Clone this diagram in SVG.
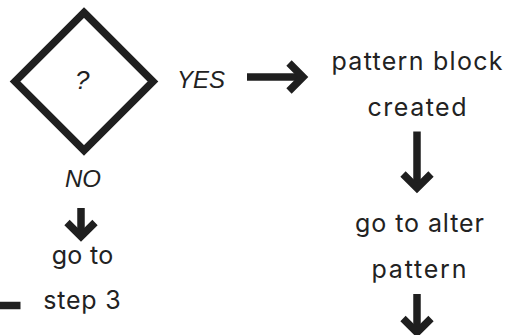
<svg xmlns="http://www.w3.org/2000/svg" width="509" height="335" viewBox="0 0 509 335">
  <style>
    .shape { fill: none; stroke: #1f1f1f; stroke-width: 7.5; stroke-linejoin: miter; }
    .wire { fill: none; stroke: #1f1f1f; stroke-width: 7.5; stroke-linecap: butt; stroke-linejoin: miter; stroke-miterlimit: 10; }
    .label { font-family: "Liberation Sans", Arial, sans-serif; font-style: italic; font-size: 24px; fill: #222; }
    .step { font-family: Inter, "Open Sans", sans-serif; font-size: 25px; fill: #222; text-anchor: middle; }
  </style>

  <!-- decision diamond -->
  <g id="decision">
    <polygon class="shape" points="84,12.5 153,81.5 84,150.5 15,81.5"/>
    <text class="label" x="75" y="89" style="font-size:26px">?</text>
  </g>

  <g id="yes-label">
    <text class="label" x="177" y="87.5">YES</text>
  </g>

  <g id="no-label">
    <text class="label" x="65" y="186.5">NO</text>
  </g>

  <g id="pattern-created">
    <text class="step" x="417" y="70" textLength="171" lengthAdjust="spacing">pattern block</text>
    <text class="step" x="417" y="116" textLength="99" lengthAdjust="spacing">created</text>
  </g>

  <g id="alter-pattern">
    <text class="step" x="419.5" y="232" textLength="129" lengthAdjust="spacing">go to alter</text>
    <text class="step" x="419" y="278" textLength="95" lengthAdjust="spacing">pattern</text>
  </g>

  <g id="goto-step3">
    <text class="step" x="82.5" y="263.5" textLength="61.6" lengthAdjust="spacing">go to</text>
    <text class="step" x="82" y="309" textLength="77.4" lengthAdjust="spacing">step 3</text>
  </g>

  <!-- connectors: shaft plus chevron head -->
  <g id="connectors">
    <!-- YES branch, pointing right -->
    <line class="wire" x1="247" y1="77" x2="303" y2="77"/>
    <polyline class="wire" points="289,63 303,77 289,91"/>

    <!-- pattern block created -> go to alter pattern -->
    <line class="wire" x1="417" y1="131.5" x2="417" y2="188"/>
    <polyline class="wire" points="403,174 417,188 431,174"/>

    <!-- go to alter pattern -> next step -->
    <line class="wire" x1="417" y1="294" x2="417" y2="332.5"/>
    <polyline class="wire" points="403,318.5 417,332.5 431,318.5"/>

    <!-- NO branch, pointing down -->
    <line class="wire" x1="81" y1="208" x2="81" y2="236.5"/>
    <polyline class="wire" points="67,222.5 81,236.5 95,222.5"/>

    <!-- lead-in toward step 3 -->
    <line class="wire" x1="-2" y1="305.5" x2="20.5" y2="305.5"/>
  </g>
</svg>
